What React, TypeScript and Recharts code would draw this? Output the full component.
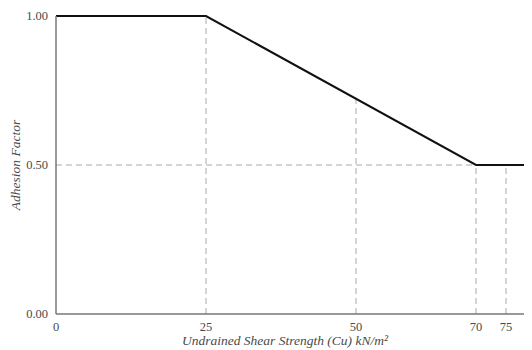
import { LineChart, Line, XAxis, YAxis, ReferenceLine, Label } from 'recharts';

// adhesion factor curve (Cu in kN/m², factor)
const cuValues = [0, 25, 70, 80];
const factorValues = [1, 1, 0.5, 0.5];

// dashed guide lines: vertical at x up to the curve, one horizontal at 0.5
const guideX = [25, 50, 70, 75];
const guideTop = [1, 0.722, 0.5, 0.5];
const guideY = 0.5;
const guideYEnd = 70;

const xTicks = [0, 25, 50, 70, 75];
const yTicks = [0, 0.5, 1];

const data = cuValues.map((cu, i) => ({ cu, factor: factorValues[i] }));

const font = '"Liberation Serif", "DejaVu Serif", serif';
const tickStyle = { fontFamily: font, fontSize: 12.5, fill: '#4a4a4a' };
const labelStyle = { fontFamily: font, fontSize: 13.5, fontStyle: 'italic' as const, fill: '#4a4a4a' };
const dash = '#aaa';

export default function App() {
  // plot runs slightly past the right edge of the page, so clip it
  return (
    <div style={{ width: 524, height: 342, overflow: 'hidden' }}>
      <LineChart width={528} height={342} data={data} margin={{ top: 8, right: 0, bottom: 6, left: 0 }}>
        <XAxis
          type="number"
          dataKey="cu"
          domain={[0, 80]}
          ticks={xTicks}
          tickLine={false}
          axisLine={{ stroke: '#777', strokeWidth: 1.5 }}
          tick={tickStyle}
          height={30}
        >
          <Label
            content={(props: any) => {
              const vb = props.viewBox || {};
              const cx = (vb.x ?? 0) + (vb.width ?? 0) / 2 - 11;
              const cy = (vb.y ?? 0) + 26;
              return (
                <text x={cx} y={cy} textAnchor="middle" dominantBaseline="central" style={labelStyle}>
                  Undrained Shear Strength (Cu) kN/m²
                </text>
              );
            }}
          />
        </XAxis>
        <YAxis
          type="number"
          domain={[0, 1]}
          ticks={yTicks}
          tickFormatter={(v: number) => v.toFixed(2)}
          tickLine={false}
          axisLine={{ stroke: '#777', strokeWidth: 1.5 }}
          tick={tickStyle}
          width={48}
        >
          <Label
            content={(props: any) => {
              const vb = props.viewBox || {};
              const cx = (vb.x ?? 0) + 7;
              const cy = (vb.y ?? 0) + (vb.height ?? 0) / 2;
              return (
                <text
                  x={cx}
                  y={cy}
                  transform={`rotate(-90, ${cx}, ${cy})`}
                  textAnchor="middle"
                  dominantBaseline="central"
                  style={labelStyle}
                >
                  Adhesion Factor
                </text>
              );
            }}
          />
        </YAxis>
        {guideX.map((x, i) => (
          <ReferenceLine
            key={x}
            segment={[
              { x, y: 0 },
              { x, y: guideTop[i] },
            ]}
            stroke={dash}
            strokeDasharray="6 4"
            strokeWidth={1}
          />
        ))}
        <ReferenceLine
          segment={[
            { x: 0, y: guideY },
            { x: guideYEnd, y: guideY },
          ]}
          stroke={dash}
          strokeDasharray="6 4"
          strokeWidth={1}
        />
        <Line
          type="linear"
          dataKey="factor"
          stroke="#111"
          strokeWidth={2}
          dot={false}
          activeDot={false}
          isAnimationActive={false}
        />
      </LineChart>
    </div>
  );
}
